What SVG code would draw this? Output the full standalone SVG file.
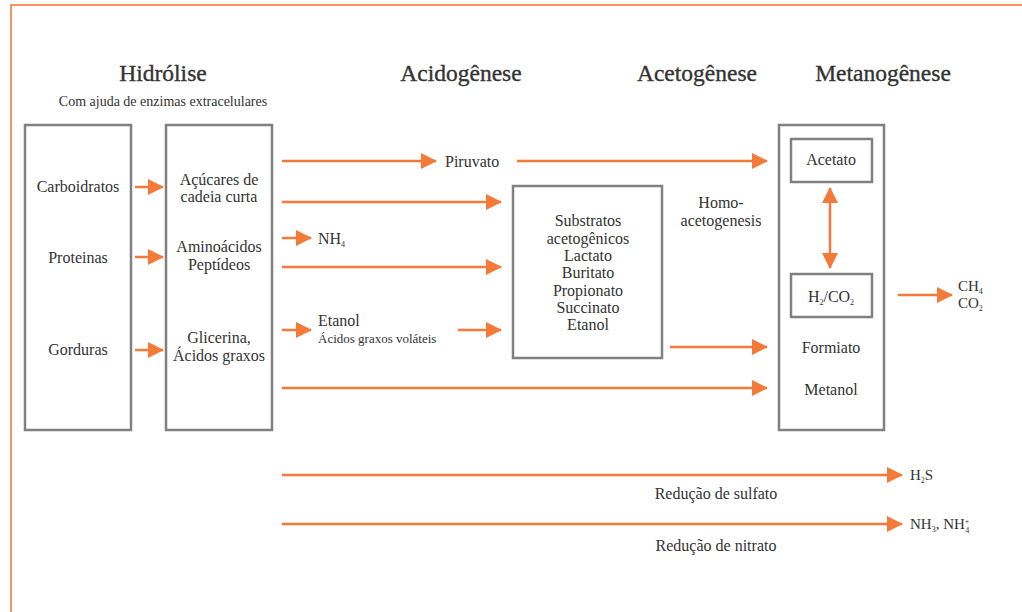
<svg xmlns="http://www.w3.org/2000/svg" width="1022" height="612" viewBox="0 0 1022 612" font-family="'Liberation Serif', 'DejaVu Serif', 'Times New Roman', Times, serif">
<style>
text{font-family:'Liberation Serif','DejaVu Serif','Times New Roman',Times,serif;fill:#333;}
.h{font-size:23.5px;text-anchor:middle;stroke:#333;stroke-width:0.35;}
.t{font-size:16px;text-anchor:middle;}
.l{font-size:16px;}
.s{font-size:13px;}
.box{fill:none;stroke:#808080;stroke-width:2.5;}
.ar{stroke:#F47A3A;stroke-width:2.5;fill:none;marker-end:url(#ah);}
</style>
<defs>
<marker id="ah" markerUnits="userSpaceOnUse" markerWidth="16" markerHeight="18" refX="15" refY="8" orient="auto">
<path d="M0,0 L16,8 L0,16 z" fill="#F47A3A"/>
</marker>
<marker id="ahs" markerUnits="userSpaceOnUse" markerWidth="16" markerHeight="18" refX="1" refY="8" orient="auto">
<path d="M16,0 L0,8 L16,16 z" fill="#F47A3A"/>
</marker>
</defs>
<rect width="1022" height="612" fill="#fff"/>
<g id="frame" stroke="#F7935E" stroke-width="2" fill="none">
<line x1="10" y1="5" x2="1022" y2="5"/>
<line x1="11" y1="5" x2="11" y2="612"/>
</g>
<g id="headings">
<text class="h" x="163" y="81">Hidrólise</text>
<text x="163" y="106" style="font-size:14px;text-anchor:middle">Com ajuda de enzimas extracelulares</text>
<text class="h" x="461" y="81">Acidogênese</text>
<text class="h" x="697" y="81">Acetogênese</text>
<text class="h" x="883" y="81">Metanogênese</text>
</g>
<g id="substrates-box">
<rect class="box" x="25" y="125" width="106" height="305"/>
<text class="t" x="78" y="192">Carboidratos</text>
<text class="t" x="78" y="263">Proteinas</text>
<text class="t" x="78" y="355">Gorduras</text>
</g>
<g id="hydrolysis-box">
<rect class="box" x="166" y="125" width="106" height="305"/>
<text class="t" x="219" y="185">Açúcares de</text>
<text class="t" x="219" y="202">cadeia curta</text>
<text class="t" x="219" y="252">Aminoácidos</text>
<text class="t" x="219" y="270">Peptídeos</text>
<text class="t" x="219" y="343">Glicerina,</text>
<text class="t" x="219" y="361">Ácidos graxos</text>
</g>
<g id="piruvato"><text class="l" x="445" y="167">Piruvato</text></g>
<g id="nh4"><text class="l" x="318" y="244">NH<tspan style="font-size:8px" dy="3">4</tspan></text></g>
<g id="etanol">
<text class="l" x="318" y="326">Etanol</text>
<text class="s" x="318" y="343">Ácidos graxos voláteis</text>
</g>
<g id="acetogenic-box">
<rect class="box" x="513" y="186" width="149" height="172"/>
<text class="t" x="588" y="226">Substratos</text>
<text class="t" x="588" y="244">acetogênicos</text>
<text class="t" x="588" y="261">Lactato</text>
<text class="t" x="588" y="278">Buritato</text>
<text class="t" x="588" y="296">Propionato</text>
<text class="t" x="588" y="313">Succinato</text>
<text class="t" x="588" y="330">Etanol</text>
</g>
<g id="homo">
<text class="t" x="721" y="208">Homo-</text>
<text class="t" x="721" y="226">acetogenesis</text>
</g>
<g id="methano-box">
<rect class="box" x="779" y="125" width="105" height="305"/>
<text class="t" x="831" y="353">Formiato</text>
<text class="t" x="831" y="395">Metanol</text>
</g>
<g id="acetato">
<rect class="box" x="791" y="139" width="81" height="43"/>
<text class="t" x="831" y="165">Acetato</text>
</g>
<g id="h2co2">
<rect class="box" x="791" y="274" width="81" height="43"/>
<text class="t" x="831" y="302">H<tspan style="font-size:8px" dy="3">2</tspan><tspan dy="-3">/CO</tspan><tspan style="font-size:8px" dy="3">2</tspan></text>
</g>
<g id="products">
<text style="font-size:15px" x="958" y="291">CH<tspan style="font-size:8px" dy="3">4</tspan></text>
<text style="font-size:15px" x="958" y="308">CO<tspan style="font-size:8px" dy="3">2</tspan></text>
<text style="font-size:15px" x="910" y="480">H<tspan style="font-size:8px" dy="3">2</tspan><tspan dy="-3">S</tspan></text>
<text style="font-size:15px" x="910" y="529">NH<tspan style="font-size:8px" dy="3">3</tspan><tspan dy="-3">, NH</tspan><tspan style="font-size:8px" dy="-5">+</tspan><tspan style="font-size:8px" dx="-4" dy="9">4</tspan></text>
<text class="t" x="716" y="499">Redução de sulfato</text>
<text class="t" x="716" y="551">Redução de nitrato</text>
</g>
<g id="connectors">
<line class="ar" x1="135" y1="187" x2="163" y2="187"/>
<line class="ar" x1="135" y1="257" x2="163" y2="257"/>
<line class="ar" x1="135" y1="350" x2="163" y2="350"/>
<line class="ar" x1="282" y1="161" x2="436" y2="161"/>
<line class="ar" x1="517" y1="161" x2="767" y2="161"/>
<line class="ar" x1="282" y1="202" x2="501" y2="202"/>
<line class="ar" x1="282" y1="238" x2="311" y2="238"/>
<line class="ar" x1="282" y1="267" x2="501" y2="267"/>
<line class="ar" x1="282" y1="330" x2="311" y2="330"/>
<line class="ar" x1="458" y1="330" x2="501" y2="330"/>
<line class="ar" x1="282" y1="388" x2="767" y2="388"/>
<line class="ar" x1="670" y1="347" x2="767" y2="347"/>
<line class="ar" x1="830" y1="188" x2="830" y2="268" style="marker-start:url(#ahs)"/>
<line class="ar" x1="898" y1="295" x2="952" y2="295"/>
<line class="ar" x1="282" y1="475" x2="902" y2="475"/>
<line class="ar" x1="282" y1="524" x2="902" y2="524"/>
</g>
</svg>
